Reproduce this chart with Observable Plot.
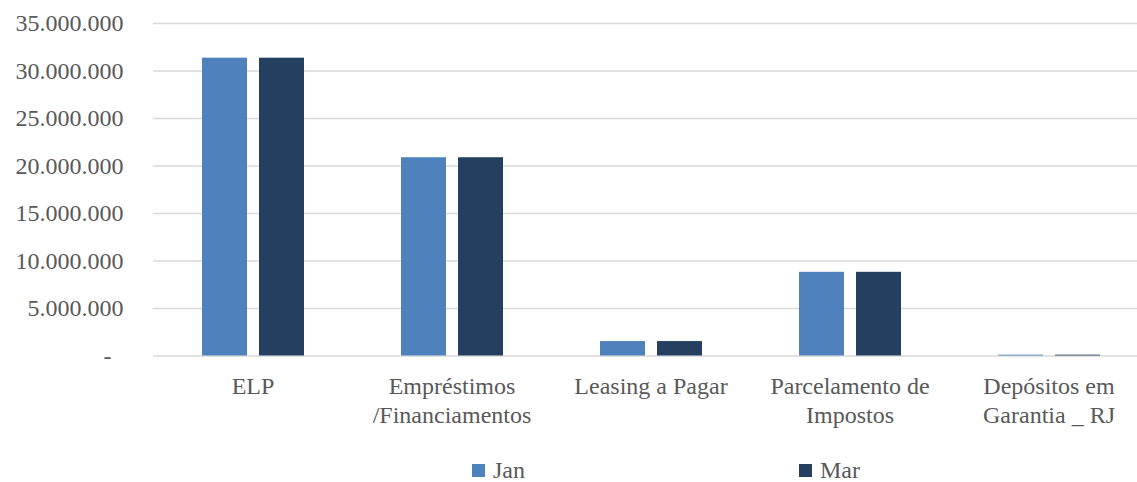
<!DOCTYPE html>
<html>
<head>
<meta charset="utf-8">
<script src="https://cdn.jsdelivr.net/npm/d3@7"></script>
<script src="https://cdn.jsdelivr.net/npm/@observablehq/plot@0.6"></script>
<style>
  html, body { margin: 0; padding: 0; background: #fff; overflow: hidden; width: 1137px; height: 482px; }
  #wrap { position: relative; width: 1137px; height: 482px; overflow: hidden; font-family: "Liberation Serif", "DejaVu Serif", serif; color: #595959; }
  #chart { position: absolute; left: 0; top: 0; width: 1151px; }
  #chart svg { max-width: none !important; }
  .sw { position: absolute; width: 13px; height: 13px; }
  .lt { position: absolute; font-size: 24px; line-height: 24px; white-space: nowrap; font-family: "Liberation Serif", "DejaVu Serif", serif; }
  svg text { font-family: "Liberation Serif", "DejaVu Serif", serif; }
</style>
</head>
<body>
<div id="wrap">
  <div id="chart"></div>
  <div id="legend"></div>
</div>
<script>
const categories = ["ELP", "Empréstimos\n/Financiamentos", "Leasing a Pagar", "Parcelamento de\nImpostos", "Depósitos em\nGarantia _ RJ"];
const seriesNames = ["Jan", "Mar"];
const janValues = [31350000, 20870000, 1520000, 8810000, 90000];
const marValues = [31350000, 20870000, 1520000, 8810000, 90000];
const yTicks = [0, 5000000, 10000000, 15000000, 20000000, 25000000, 30000000, 35000000];
const colors = ["#4F81BD", "#243F60"];

const data = [];
categories.forEach((c, i) => {
  data.push({cat: c, series: seriesNames[0], value: janValues[i]});
  data.push({cat: c, series: seriesNames[1], value: marValues[i]});
});

const loc = d3.formatLocale({decimal: ",", thousands: ".", grouping: [3], currency: ["R$", ""]});
const fmt = loc.format(",d");
const yFormat = d => d === 0 ? "-\u2007" : fmt(d);

const chart = Plot.plot({
  width: 1150,
  height: 445,
  marginLeft: 151,
  marginRight: 0,
  marginTop: 23,
  marginBottom: 89.5,
  style: {fontFamily: "Liberation Serif, DejaVu Serif, serif", fontSize: "24px", color: "#595959", background: "transparent", overflow: "visible", maxWidth: "none"},
  fx: {domain: categories, padding: 0, label: null, axis: null},
  x: {domain: seriesNames, paddingInner: 12 / 57, paddingOuter: 0.85, axis: null},
  y: {domain: [0, 35000000], axis: null, label: null},
  color: {domain: seriesNames, range: colors},
  marks: [
    Plot.gridY(yTicks, {stroke: "#d9d9d9", strokeOpacity: 1, strokeWidth: 1.5}),
    Plot.barY(data, {fx: "cat", x: "series", y: "value", fill: "series"}),
    Plot.axisFx({anchor: "bottom", tickSize: 0, tickPadding: 18, lineHeight: 1.2, fontSize: 24, fill: "#595959", label: null}),
    Plot.axisY(yTicks, {anchor: "left", tickFormat: yFormat, tickSize: 0, tickPadding: 30, fontSize: 24, fill: "#595959", label: null})
  ]
});
chart.style.maxWidth = "none";
document.getElementById("chart").appendChild(chart);

// legend
const legend = document.getElementById("legend");
const legendX = [472, 799];
seriesNames.forEach((s, i) => {
  const sw = document.createElement("div");
  sw.className = "sw";
  sw.style.left = legendX[i] + "px";
  sw.style.top = "464px";
  sw.style.background = colors[i];
  legend.appendChild(sw);
  const t = document.createElement("div");
  t.className = "lt";
  t.style.left = (legendX[i] + 21) + "px";
  t.style.top = "458px";
  t.textContent = s;
  legend.appendChild(t);
});
</script>
</body>
</html>
